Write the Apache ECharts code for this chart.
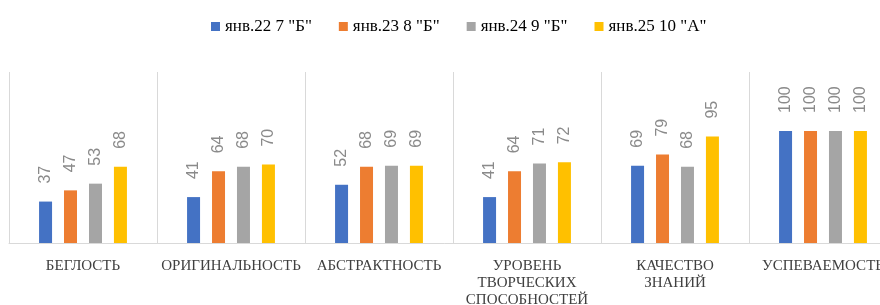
<!DOCTYPE html>
<html>
<head>
    <meta charset="utf-8">
    <title>Показатели</title>
    <script src="https://cdn.jsdelivr.net/npm/echarts@6/dist/echarts.min.js"></script>
    <style>
        html, body { margin: 0; padding: 0; background: #fff; }
        #main { width: 880px; height: 305px; }
    </style>
</head>
<body>
    <div id="main"></div>
    <script>
        // категории по оси X
        const categories = [
            'БЕГЛОСТЬ',
            'ОРИГИНАЛЬНОСТЬ',
            'АБСТРАКТНОСТЬ',
            'УРОВЕНЬ\nТВОРЧЕСКИХ\nСПОСОБНОСТЕЙ',
            'КАЧЕСТВО\nЗНАНИЙ',
            'УСПЕВАЕМОСТЬ'
        ];

        // названия рядов (легенда)
        const seriesNames = ['янв.22 7 "Б"', 'янв.23 8 "Б"', 'янв.24 9 "Б"', 'янв.25 10 "А"'];

        // значения рядов
        const jan22 = [37, 41, 52, 41, 69, 100];
        const jan23 = [47, 64, 68, 64, 79, 100];
        const jan24 = [53, 68, 69, 71, 68, 100];
        const jan25 = [68, 70, 69, 72, 95, 100];

        const colors = ['#4472C4', '#ED7D31', '#A5A5A5', '#FFC000'];
        const values = [jan22, jan23, jan24, jan25];

        const chart = echarts.init(document.getElementById('main'));

        const series = seriesNames.map((name, i) => ({
            name: name,
            type: 'bar',
            data: values[i],
            barWidth: 13,
            barGap: '92%',
            itemStyle: { color: colors[i] },
            label: {
                show: true,
                position: 'top',
                distance: 18,
                rotate: 90,
                align: 'left',
                verticalAlign: 'middle',
                color: '#8a8a8a',
                fontFamily: 'Liberation Sans',
                fontSize: 16
            }
        }));

        const option = {
            animation: false,
            backgroundColor: '#fff',
            legend: {
                data: seriesNames,
                left: 206,
                top: 13,
                itemWidth: 9,
                itemHeight: 9,
                itemGap: 27,
                icon: 'rect',
                textStyle: {
                    fontFamily: 'Liberation Serif',
                    fontSize: 17,
                    color: '#000'
                }
            },
            grid: {
                left: 9,
                top: 72,
                width: 888,
                height: 171,
                outerBoundsMode: 'none'
            },
            xAxis: {
                type: 'category',
                data: categories,
                axisLine: { lineStyle: { color: '#d9d9d9' } },
                axisTick: { show: false },
                splitLine: { show: true, lineStyle: { color: '#d9d9d9' } },
                axisLabel: {
                    interval: 0,
                    margin: 15,
                    fontFamily: 'Liberation Serif',
                    fontSize: 15,
                    lineHeight: 17,
                    color: '#404040'
                }
            },
            yAxis: {
                type: 'value',
                min: 0,
                max: 152.7,
                show: false,
                splitLine: { show: false }
            },
            series: series
        };

        chart.setOption(option);
    </script>
</body>
</html>
